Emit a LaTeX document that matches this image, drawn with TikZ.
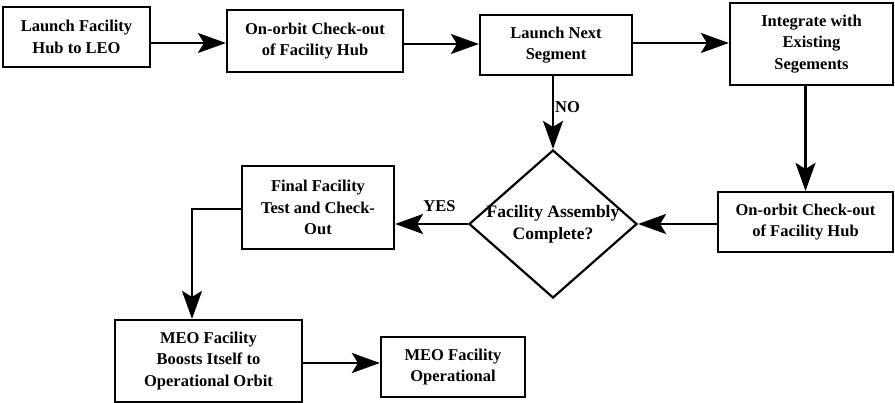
\documentclass[tikz,border=0pt]{standalone}
\usepackage{fontspec}
\setmainfont{Liberation Serif}
\usetikzlibrary{arrows.meta, shapes.geometric}
\tikzstyle{stage}=[draw=black, line width=2.2pt, rectangle, align=center, inner sep=1pt, font=\fontsize{16.5}{21.5}\selectfont\bfseries]
\tikzstyle{check}=[draw=black, line width=2.2pt, diamond, aspect=1.135, inner sep=-14pt, minimum width=168pt, minimum height=148pt, align=center, font=\fontsize{17.5}{22}\selectfont\bfseries]
\tikzstyle{flow}=[line width=2.2pt, -{Stealth[length=28pt, width=20pt, inset=6pt]}]
\tikzstyle{tag}=[font=\fontsize{16.5}{18}\selectfont\bfseries, inner sep=1pt]

\begin{document}
\begin{tikzpicture}[x=1pt, y=-1pt]
				\useasboundingbox (0,0) rectangle (895,403);

				% Top row: hub launch up to segment integration
				\node[stage, minimum width=147pt, minimum height=60pt] (hub) at (76.5, 37) {Launch Facility\\Hub to LEO};
				\node[stage, minimum width=176pt, minimum height=62pt] (checkA) at (315, 41) {On-orbit Check-out\\of Facility Hub};
				\node[stage, minimum width=152pt, minimum height=60pt] (next) at (556, 45) {Launch Next\\Segment};
				\node[stage, minimum width=163pt, minimum height=82pt] (integ) at (811.5, 44) {Integrate with\\Existing\\Segements};

				% Middle row: check-out, decision, final test
				\node[stage, minimum width=175pt, minimum height=60pt] (checkB) at (805.5, 222) {On-orbit Check-out\\of Facility Hub};
				\node[check] (done) at (553, 224) {Facility Assembly\\Complete?};
				\node[stage, minimum width=152pt, minimum height=83pt] (final) at (318, 207.5) {Final Facility\\Test and Check-\\Out};

				% Bottom row: boost to MEO
				\node[stage, minimum width=187pt, minimum height=82pt] (boost) at (208.5, 361) {MEO Facility\\Boosts Itself to\\Operational Orbit};
				\node[stage, minimum width=144pt, minimum height=60pt] (oper) at (453, 367) {MEO Facility\\Operational};

				\draw[flow] (hub.east |- 0,43) -- (checkA.west |- 0,43);
				\draw[flow] (checkA.east |- 0,44) -- (next.west |- 0,44);
				\draw[flow] (next.east |- 0,43) -- (integ.west |- 0,43);
				\draw[flow] (integ.south -| checkB.north) -- (checkB.north);
				\draw[flow] (next.south -| done.north) -- node[tag, right, pos=0.42] (no) {NO} (done.north);
				\draw[flow] (checkB.west |- done.east) -- (done.east);
				\draw[flow] (done.west) -- node[tag, above, pos=0.39, yshift=10pt] (yes) {YES} (final.east |- done.west);
				\draw[flow] (final.west |- 0,209) -| ([xshift=-16.5pt]boost.north);
				\draw[flow] (boost.east |- 0,363) -- (oper.west |- 0,363);
\end{tikzpicture}
\end{document}
